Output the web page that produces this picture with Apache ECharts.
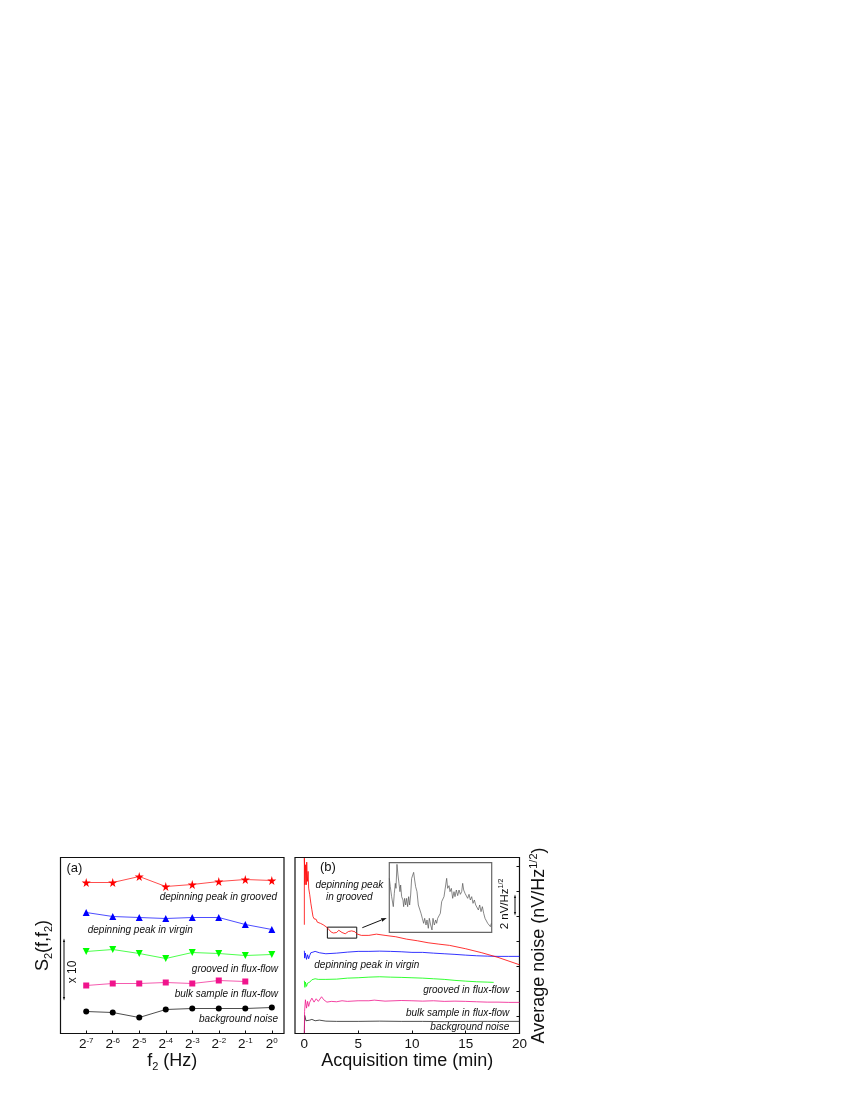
<!DOCTYPE html>
<html>
<head>
<meta charset="utf-8">
<style>html,body{margin:0;padding:0;background:#fff}#main{width:850px;height:1100px}</style>
<script src="https://cdn.jsdelivr.net/npm/echarts@6/dist/echarts.min.js"></script>
</head>
<body>
<div id="main"></div>
<script>
// panel (a): exponent of f2, heights in arbitrary units
const exponents = [-7, -6, -5, -4, -3, -2, -1, 0];
const starVals = [151, 151, 157, 147, 149, 152, 154, 153];
const virginVals = [121, 117, 116, 115, 116, 116, 109, 104];
const groovedVals = [82, 84, 80, 75, 81, 80, 78, 79];
const bulkVals = [48, 50, 50, 51, 50, 53, 52];
const backVals = [22, 21, 16, 24, 25, 25, 25, 26];

// panel (b): [minutes, nV/Hz^1/2 with arbitrary offset]
const redNoise = [[0,7.34],[0,12.67],[0.06,10.54],[0.12,12.14],[0.18,10.54],[0.22,12.35],[0.28,10.81],[0.35,11.61],[0.4,10.27],[0.5,9.74],[0.6,9.07],[0.7,8.54],[0.8,8.01],[0.9,7.82],[1,7.66],[1.1,7.77],[1.2,7.55],[1.35,7.61],[1.5,7.45],[1.6,7.53],[1.75,7.34],[1.9,7.39],[2.1,7.13],[2.3,6.94],[2.5,6.75],[2.7,6.68],[3,6.72],[3.2,6.9],[3.5,6.72],[3.8,6.62],[4.1,6.8],[4.4,6.85],[4.7,6.78],[4.9,6.6],[5.3,6.49],[6,6.49],[6.7,6.59],[7.5,6.49],[8.5,6.38],[9.5,6.19],[10.5,6.06],[11.5,5.9],[12.5,5.79],[13.5,5.69],[15,5.42],[16.5,5.1],[18,4.73],[20,4.14]];
const blueNoise = [[0,5.26],[0.03,4.67],[0.1,5.07],[0.2,4.57],[0.3,4.94],[0.4,4.62],[0.5,4.89],[0.6,5.1],[0.8,5.15],[1,5.21],[1.1,5.26],[1.4,5.1],[2,5.02],[3,5.07],[4,5.15],[5,5.21],[6,5.21],[7,5.23],[8,5.21],[9,5.18],[10,5.13],[11,5.13],[12,5.07],[13,5.02],[14,4.97],[15,4.91],[16,4.86],[17,4.83],[18,4.81],[19,4.81],[20,4.81]];
const greenNoise = [[0,2.86],[0.05,2.33],[0.1,2.75],[0.2,2.41],[0.3,2.67],[0.5,2.75],[0.7,2.94],[1,3.02],[1.3,2.97],[2,2.97],[3,2.99],[4,3.07],[5,3.1],[6,3.15],[7,3.18],[8,3.15],[9,3.13],[10,3.1],[11,3.07],[12,3.02],[13,2.97],[14,2.89],[15,2.83],[16,2.78],[17,2.75],[17.6,2.73]];
const pinkNoise = [[0,-1.33],[0.02,0.41],[0.1,1.34],[0.2,0.67],[0.3,1.21],[0.4,0.81],[0.5,1.15],[0.7,1.47],[0.9,1.15],[1.1,1.42],[1.3,1.21],[1.6,1.58],[1.8,1.34],[2.1,1.15],[2.5,1.21],[3,1.18],[3.5,1.26],[4,1.21],[5,1.26],[6,1.26],[6.5,1.31],[7.5,1.23],[9,1.28],[10,1.26],[11,1.23],[12,1.26],[13,1.21],[14,1.23],[15,1.21],[16,1.18],[17,1.15],[18,1.15],[19,1.13],[20,1.13]];
const blackNoise = [[0,-1.33],[0.03,0.09],[0.15,-0.34],[0.3,-0.18],[0.5,-0.29],[0.7,-0.23],[1,-0.34],[1.4,-0.29],[2,-0.37],[3,-0.39],[5,-0.39],[7,-0.37],[9,-0.39],[11,-0.39],[13,-0.41],[15,-0.39],[17,-0.39],[20,-0.39]];

// inset: zoomed trace, units
const insetTrace = [[13,70],[16,95],[20,125],[25,155],[28,115],[31,85],[33,100],[36,28],[39,60],[42,85],[45,110],[47,90],[50,125],[54,135],[56,155],[59,130],[62,150],[65,130],[68,155],[71,125],[74,150],[77,120],[80,70],[83,65],[86,52],[89,75],[92,95],[96,110],[100,150],[104,155],[108,175],[112,190],[116,205],[119,190],[123,210],[126,195],[130,220],[133,190],[137,210],[141,225],[144,190],[148,210],[152,195],[155,205],[158,190],[162,185],[166,175],[170,140],[173,145],[177,125],[181,130],[185,70],[188,100],[192,92],[195,110],[199,100],[203,130],[207,110],[210,125],[214,105],[218,122],[222,105],[226,118],[230,110],[233,85],[236,105],[240,115],[244,110],[248,130],[252,118],[256,135],[260,125],[264,145],[268,135],[272,150],[276,155],[280,165],[284,150],[288,170],[292,155],[296,175],[300,190],[304,185],[308,205],[312,200],[316,215],[319,205]];

const rightTicks = [0, 2, 4, 6, 8, 10, 12];
const timeTicks = [0, 5, 10, 15, 20];

const FONT = '"Liberation Sans", Arial, sans-serif';
const STAR = 'path://M50 0 L61 35 L98 35 L68 57 L79 91 L50 70 L21 91 L32 57 L2 35 L39 35 Z';

const chart = echarts.init(document.getElementById('main'), null, { renderer: 'canvas' });

const note = (text, x, y, align) => ({
  type: 'text', x, y,
  style: { text, x: 0, y: 0, align: align || 'left', verticalAlign: 'middle', fontFamily: FONT, fontStyle: 'italic', fontSize: 10, fill: '#111' }
});
const plain = (text, x, y, size) => ({
  type: 'text', x, y,
  style: { text, align: 'left', verticalAlign: 'middle', fontFamily: FONT, fontSize: size, fill: '#111' }
});
const arrowLine = (x1, y1, x2, y2) => ({
  type: 'line', shape: { x1, y1, x2, y2 }, style: { stroke: '#111', lineWidth: 1 }
});
const arrowHead = (x, y, angle, s) => ({
  type: 'polygon', x, y, rotation: angle,
  shape: { points: [[0, -s], [-s * 0.45, s * 0.4], [s * 0.45, s * 0.4]] },
  style: { fill: '#111' }
});

const pointSeries = (vals, color, symbol, size, rot) => ({
  type: 'line', xAxisIndex: 0, yAxisIndex: 0,
  data: vals.map((v, i) => [exponents[i], v]),
  symbol, symbolSize: size, symbolRotate: rot || 0,
  lineStyle: { color, width: 0.7 }, itemStyle: { color }
});
const noiseSeries = (data, color, extra) => Object.assign({
  type: 'line', xAxisIndex: 1, yAxisIndex: 1, data,
  showSymbol: false, symbol: 'none',
  lineStyle: { color, width: 0.8 }
}, extra || {});

const subRich = {
  t: { fontFamily: FONT, fontSize: 18, lineHeight: 22, color: '#111' },
  u: { fontFamily: FONT, fontSize: 11, lineHeight: 12, verticalAlign: 'bottom', color: '#111' }
};
const supRich = {
  t: { fontFamily: FONT, fontSize: 18, lineHeight: 22, color: '#111' },
  u: { fontFamily: FONT, fontSize: 11, lineHeight: 11, verticalAlign: 'top', color: '#111' }
};

chart.setOption({
  animation: false,
  backgroundColor: '#fff',
  textStyle: { fontFamily: FONT },
  grid: [
    { left: 60.5, top: 857.5, width: 223.5, height: 176, show: true, borderColor: '#111', borderWidth: 1.2, backgroundColor: 'transparent' },
    { left: 295, top: 857.5, width: 224.5, height: 176, show: true, borderColor: '#111', borderWidth: 1.2, backgroundColor: 'transparent' },
    { left: 389.3, top: 862.7, width: 102.4, height: 69.6, show: true, borderColor: '#666', borderWidth: 1.2, backgroundColor: '#fff', z: 5 }
  ],
  xAxis: [
    {
      gridIndex: 0, type: 'value', min: -7.97, max: 0.46,
      splitLine: { show: false }, axisLine: { show: false, onZero: false },
      axisTick: { show: true, inside: true, length: 3, customValues: exponents, lineStyle: { color: '#111' } },
      axisLabel: {
        show: true, customValues: exponents, margin: 3, hideOverlap: false,
        formatter: v => '{b|2}{s|' + v + '}',
        rich: {
          b: { fontFamily: FONT, fontSize: 13.5, lineHeight: 16, color: '#111' },
          s: { fontFamily: FONT, fontSize: 8, lineHeight: 7, verticalAlign: 'top', color: '#111' }
        }
      },
      name: '{t|f}{u|2}{t| (Hz)}', nameLocation: 'middle', nameGap: 16,
      nameTextStyle: { rich: subRich }
    },
    {
      gridIndex: 1, type: 'value', min: -0.87, max: 20,
      splitLine: { show: false }, axisLine: { show: false, onZero: false },
      axisTick: { show: true, inside: true, length: 3, customValues: timeTicks, lineStyle: { color: '#111' } },
      axisLabel: { show: true, customValues: timeTicks, margin: 4, fontFamily: FONT, fontSize: 13.5, color: '#111' },
      name: 'Acquisition time (min)', nameLocation: 'middle', nameGap: 18,
      nameTextStyle: { fontFamily: FONT, fontSize: 18, color: '#111' }
    },
    { gridIndex: 2, type: 'value', min: 13, max: 320, show: false }
  ],
  yAxis: [
    {
      gridIndex: 0, type: 'value', min: 0, max: 176,
      splitLine: { show: false }, axisLine: { show: false, onZero: false }, axisTick: { show: false }, axisLabel: { show: false },
      name: '{t|S}{u|2}{t|(f,f}{u|2}{t|)}', nameLocation: 'middle', nameGap: 6, nameRotate: 90,
      nameTextStyle: { rich: subRich }
    },
    {
      gridIndex: 1, type: 'value', min: -1.36, max: 12.72, position: 'right',
      splitLine: { show: false }, axisLine: { show: false, onZero: false },
      axisTick: { show: true, inside: true, length: 3, customValues: rightTicks, lineStyle: { color: '#111' } },
      axisLabel: { show: false },
      name: '{t|Average noise (nV/Hz}{u|1/2}{t|)}', nameLocation: 'middle', nameGap: 9, nameRotate: 90,
      nameTextStyle: { rich: supRich }
    },
    { gridIndex: 2, type: 'value', min: 23, max: 232, inverse: true, show: false }
  ],
  series: [
    pointSeries(starVals, '#ff0000', STAR, 9),
    pointSeries(virginVals, '#0000ff', 'triangle', 7),
    pointSeries(groovedVals, '#00ff00', 'triangle', 7, 180),
    pointSeries(bulkVals, '#f0148c', 'rect', 6),
    pointSeries(backVals, '#000000', 'circle', 6),
    noiseSeries(blackNoise, '#222222'),
    noiseSeries(pinkNoise, '#f0148c'),
    noiseSeries(greenNoise, '#00ff00'),
    noiseSeries(blueNoise, '#0000ff'),
    noiseSeries(redNoise, '#ff0000', {
      markArea: {
        silent: true,
        itemStyle: { color: 'rgba(0,0,0,0)', borderColor: '#111', borderWidth: 1 },
        data: [[{ xAxis: 2.14, yAxis: 7.15 }, { xAxis: 4.87, yAxis: 6.27 }]]
      }
    }),
    {
      type: 'line', xAxisIndex: 2, yAxisIndex: 2, data: insetTrace, z: 6,
      showSymbol: false, symbol: 'none', lineStyle: { color: '#555', width: 0.7 }
    }
  ],
  graphic: [
    plain('(a)', 66.5, 868, 13),
    note('depinning peak in grooved', 277, 897.7, 'right'),
    note('depinning peak in virgin', 87.7, 930),
    note('grooved in flux-flow', 278, 969, 'right'),
    note('bulk sample in flux-flow', 278, 994, 'right'),
    note('background noise', 278, 1019.7, 'right'),
    arrowLine(64, 941, 64, 998),
    arrowHead(64, 941, 0, 2.5),
    arrowHead(64, 998, Math.PI, 2.5),
    { type: 'text', x: 73, y: 972, rotation: Math.PI / 2, style: { text: 'x 10', align: 'center', verticalAlign: 'middle', fontFamily: FONT, fontSize: 12, fill: '#111' } },

    plain('(b)', 320, 867.7, 13),
    note('depinning peak', 349.3, 885.7, 'center'),
    note('in grooved', 349.3, 897.7, 'center'),
    note('depinning peak in virgin', 314.3, 965.7),
    note('grooved in flux-flow', 509.3, 990.7, 'right'),
    note('bulk sample in flux-flow', 509.3, 1013, 'right'),
    note('background noise', 509.3, 1027.3, 'right'),
    arrowLine(362.3, 927.7, 381, 920.2),
    arrowHead(383, 919.4, -1.19, 4),
    {
      type: 'text', x: 505, y: 904, rotation: Math.PI / 2,
      style: {
        text: '{a|2 nV/Hz}{b|1/2}', align: 'center', verticalAlign: 'middle',
        rich: {
          a: { fontFamily: FONT, fontSize: 11.5, lineHeight: 14, fill: '#111' },
          b: { fontFamily: FONT, fontSize: 7, lineHeight: 8, verticalAlign: 'top', fill: '#111' }
        }
      }
    },
    arrowLine(515, 897, 515, 913),
    arrowHead(515, 897, 0, 2.5),
    arrowHead(515, 913, Math.PI, 2.5)
  ]
});
</script>
</body>
</html>
